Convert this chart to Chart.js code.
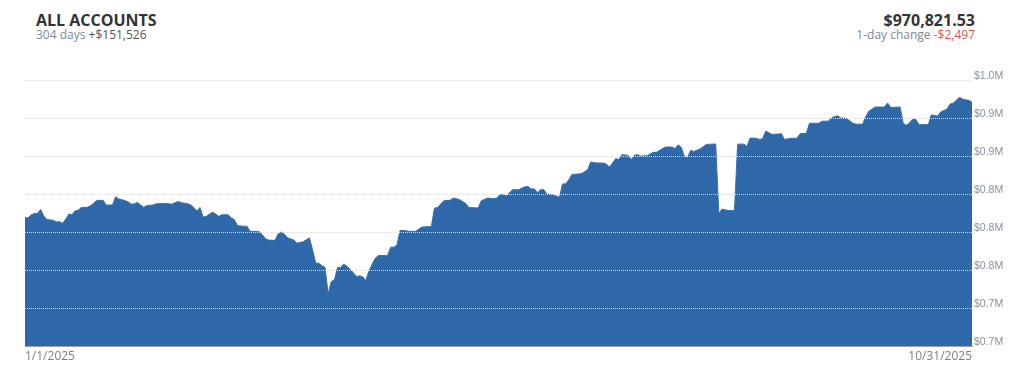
<!DOCTYPE html>
<html>
<head>
<meta charset="utf-8">
<script src="https://cdn.jsdelivr.net/npm/chart.js@4.4.1/dist/chart.umd.min.js"></script>
<style>
  html, body { margin: 0; padding: 0; background: #fff; }
  body { width: 1024px; height: 367px; position: relative; overflow: hidden; font-family: 'Open Sans', sans-serif; }
  .head { position: absolute; top: 11.5px; }
  .head.left { left: 36px; text-align: left; }
  .head.right { right: 49px; text-align: right; }
  .title { font-weight: 700; font-size: 16px; line-height: 16px; color: #333; }
  .sub { font-size: 12px; line-height: 14px; color: #7b8a9b; margin-top: 0; }
  .sub .pos { color: #555; }
  .sub .neg { color: #d9534f; }
  #wrap { position: absolute; left: 0; top: 60px; width: 1024px; height: 307px; }
</style>
</head>
<body>
<div class="head left">
  <div class="title">ALL ACCOUNTS</div>
  <div class="sub">304 days <span class="pos">+$151,526</span></div>
</div>
<div class="head right">
  <div class="title">$970,821.53</div>
  <div class="sub">1-day change <span class="neg">-$2,497</span></div>
</div>
<div id="wrap"><canvas id="chart"></canvas></div>
<script>
// day index since 1/1/2025 and account value in $k
const days = [
  0, 1, 2, 3, 4, 5, 6, 7, 9, 10, 11, 12, 13, 14, 15, 16, 17, 18, 20, 21,
  22, 23, 25, 26, 28, 29, 30, 31, 33, 34, 35, 36, 37, 38, 39, 41, 42, 45, 47, 49,
  50, 52, 53, 54, 55, 56, 57, 58, 60, 61, 62, 63, 65, 66, 67, 68, 70, 71, 72, 74,
  75, 76, 77, 78, 80, 81, 82, 83, 84, 86, 87, 89, 91, 92, 93, 94, 95, 96, 97, 98,
  99, 100, 101, 102, 103, 105, 106, 107, 108, 109, 110, 111, 112, 113, 116, 117, 118, 119, 120, 122,
  123, 125, 127, 130, 131, 132, 134, 136, 137, 139, 141, 142, 145, 146, 148, 150, 151, 152, 153, 154,
  156, 158, 160, 161, 162, 163, 164, 165, 166, 167, 169, 171, 172, 173, 174, 175, 178, 179, 180, 181,
  183, 185, 186, 187, 188, 189, 190, 191, 193, 194, 195, 196, 197, 199, 201, 202, 204, 205, 207, 208,
  209, 210, 211, 212, 213, 214, 216, 218, 220, 221, 222, 223, 225, 227, 228, 230, 231, 232, 234, 235,
  236, 237, 239, 241, 242, 243, 245, 247, 248, 250, 251, 254, 255, 257, 258, 259, 260, 261, 262, 263,
  265, 266, 268, 269, 270, 272, 274, 275, 276, 277, 280, 281, 282, 283, 284, 285, 286, 289, 290, 292,
  293, 295, 296, 297, 299, 300, 301, 302, 303
];
const values = [
  819.3, 819, 823, 824.7, 825, 830, 821.6, 816.7, 815.9, 813.7, 814, 812, 817, 824, 823, 828, 829, 832.6, 833, 835,
  838.4, 842, 842, 835.8, 836, 846.8, 843.7, 843, 840, 837, 837.5, 839.3, 836, 833, 835, 836, 837.5, 838, 837, 840.6,
  839, 837.5, 836, 832.6, 828, 832.6, 820, 821, 826.5, 824, 821, 823, 823, 819, 816.5, 808.8, 808, 808, 801.3, 801.3,
  800.7, 796.4, 791.5, 789.8, 789.5, 798, 800.4, 797.5, 792.8, 790, 785.8, 787.6, 792.8, 777.4, 759.7, 759.5, 756.2, 754, 719.5, 735.4,
  737.6, 754, 754, 758.4, 755.5, 747.3, 742, 742.8, 742, 736.7, 748.7, 757.5, 765.5, 769.5, 769.5, 780.5, 780.5, 783, 802.6, 802,
  801.3, 801.3, 807, 807.6, 831.8, 832.6, 841.5, 842, 845, 843, 838, 832.6, 832, 841.5, 845, 844.2, 845, 849.7, 849.8, 847.7,
  856, 856, 860, 860, 857, 857, 852, 856, 856, 850, 849, 846, 863.6, 863.6, 869, 876, 877, 879.6, 882, 892.3,
  891, 891, 889.7, 885.7, 891, 896.8, 895.5, 902, 901, 895.5, 901.3, 902, 900, 900.5, 905, 905, 910, 912, 912, 910,
  914.9, 911.5, 899, 898.3, 907.8, 906, 909.5, 915.4, 915.8, 916, 824.7, 830.5, 828.6, 828.6, 915.8, 915.8, 913, 923.7, 923.5, 922,
  923, 933, 928.6, 929, 929.5, 922, 923.5, 923.5, 929.5, 930, 943.2, 943.2, 945.9, 946, 950, 952, 953, 950, 950, 949,
  943, 942, 942, 952, 959, 964.5, 964.5, 964.5, 969.8, 964, 964.5, 943, 940.6, 943.6, 948.5, 948.5, 941.4, 941.4, 954.3, 952.6,
  958, 961.8, 968.4, 969.6, 977.2, 975, 974, 973.3, 970.8
];
const tickLabels = ['1/1/2025', '10/31/2025'];

const points = days.map((d, i) => ({ x: d, y: values[i] * 1000 }));

new Chart(document.getElementById('chart').getContext('2d'), {
  type: 'line',
  data: {
    datasets: [{
      data: points,
      fill: 'start',
      backgroundColor: '#2e68a9',
      borderColor: '#3870b0',
      borderWidth: 1,
      pointRadius: 0,
      tension: 0
    }]
  },
  options: {
    responsive: true,
    maintainAspectRatio: false,
    animation: false,
    layout: { padding: { left: 25, right: 0, top: 20, bottom: 0 } },
    plugins: { legend: { display: false }, tooltip: { enabled: false } },
    scales: {
      x: {
        type: 'linear',
        min: days[0],
        max: days[days.length - 1],
        grid: { display: false, drawTicks: false },
        border: { display: true, color: '#a0a0a0', width: 1, z: 2 },
        afterBuildTicks: (scale) => {
          scale.ticks = [{ value: days[0] }, { value: days[days.length - 1] }];
        },
        ticks: {
          autoSkip: false,
          maxRotation: 0,
          align: 'inner',
          padding: 3,
          color: '#7a7f85',
          font: { family: 'Open Sans', size: 12 },
          callback: (v, i) => tickLabels[i]
        }
      },
      y: {
        position: 'right',
        min: 650000,
        max: 1000000,
        afterFit: (scale) => { scale.width = 52; },
        grid: { z: 1, color: '#dcdcdc', drawTicks: false, lineWidth: 1 },
        border: { display: false, dash: [1, 1] },
        ticks: {
          stepSize: 50000,
          padding: 2,
          labelOffset: -4,
          color: '#8a9199',
          font: { family: 'Liberation Sans', size: 10.5 },
          callback: (v) => '$' + (v / 1e6).toFixed(1) + 'M'
        }
      }
    }
  }
});
</script>
</body>
</html>
